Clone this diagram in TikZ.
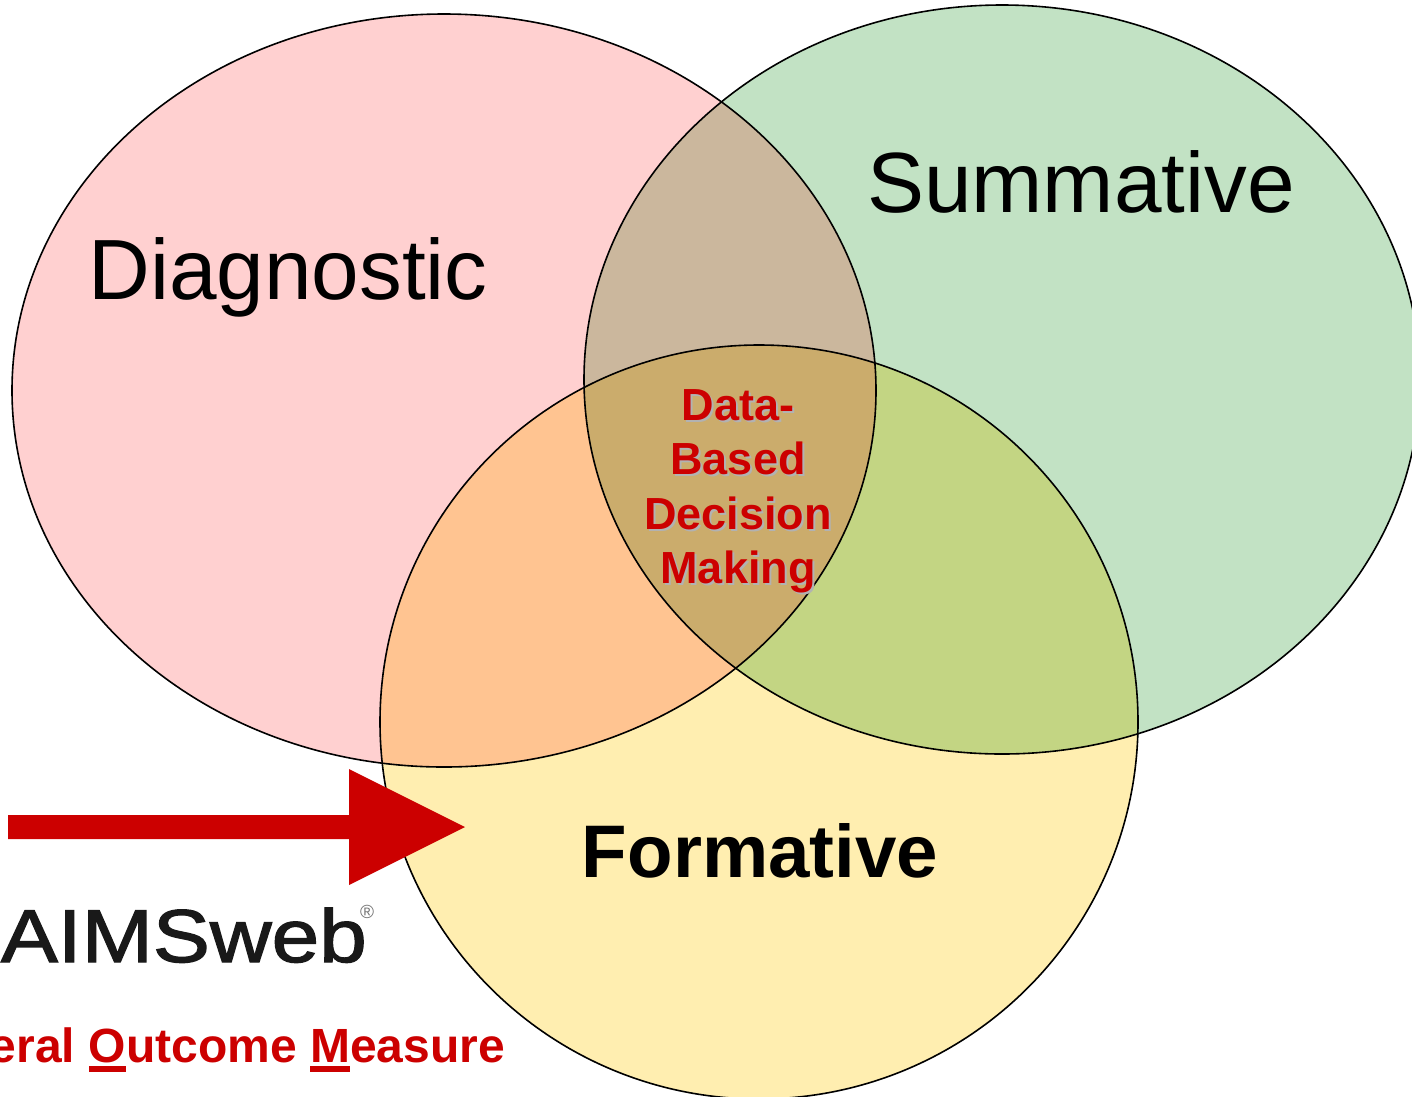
\documentclass[tikz,border=0pt]{standalone}
\usepackage{fontspec}
\setmainfont{Liberation Sans}
\newfontfamily\logofont[FakeBold=1.6]{Liberation Sans}
\definecolor{cred}{HTML}{CC0000}
\definecolor{cP}{HTML}{FFD0D0}
\definecolor{cG}{HTML}{C2E2C4}
\definecolor{cY}{HTML}{FFEEB0}
\definecolor{cPG}{HTML}{CBB79D}
\definecolor{cPY}{HTML}{FFC491}
\definecolor{cGY}{HTML}{C3D583}
\definecolor{cPGY}{HTML}{CBAC6C}
\newcommand\ulbox[1]{\setbox0\hbox{#1}\rlap{\rule[-0.21em]{\wd0}{0.13em}}\box0}
\newcommand\shadowtext[4]{%
 \node[datatext,text=black!30] at (#1+2,#2+2) {#3};
 \node[datatext] (#4) at (#1,#2) {#3};}
\tikzset{
  venn/.style={draw=black,line width=1.6pt},
  bigtext/.style={font=\fontsize{85.5}{85.5}\selectfont,text=black,inner sep=0pt,anchor=base},
  datatext/.style={font=\fontsize{45}{45}\bfseries\selectfont,text=cred,inner sep=0pt,anchor=base},
}
\def\pD{(444,390.5) ellipse [x radius=432,y radius=376.5]}
\def\pS{(1002,379.5) ellipse [x radius=418,y radius=374.5]}
\def\pF{(759,722) ellipse [x radius=379,y radius=377]}
\begin{document}
\begin{tikzpicture}[x=1pt,y=-1pt]
\useasboundingbox (0,0) rectangle (1412,1096);
\clip (0,0) rectangle (1412,1096);
\fill[white] (0,0) rectangle (1412,1096);
% base regions
\fill[cP] \pD;
\fill[cG] \pS;
\fill[cY] \pF;
% overlaps
\begin{scope}\clip \pD; \fill[cPG] \pS; \fill[cPY] \pF; \end{scope}
\begin{scope}\clip \pS; \fill[cGY] \pF; \end{scope}
\begin{scope}\clip \pD; \clip \pS; \fill[cPGY] \pF; \end{scope}
% outlines
\draw[venn] \pD;
\draw[venn] \pS;
\draw[venn] \pF;
% labels
\node[bigtext] (diag) at (288,299) {Diagnostic};
\node[bigtext] (summ) at (1081,212) {Summative};
\node[bigtext,font=\fontsize{74.5}{74.5}\bfseries\selectfont] (form) at (760,877) {Formative};
\shadowtext{738}{420}{Data-}{d1}
\shadowtext{738}{474}{Based}{d2}
\shadowtext{738}{529}{Decision}{d3}
\shadowtext{738}{583}{Making}{d4}
% arrow
\fill[cred] (8,815) -- (349,815) -- (349,769) -- (465,827) -- (349,885) -- (349,839) -- (8,839) -- cycle;
% logo
\node[inner sep=0pt,anchor=base east,xscale=1.14,font=\logofont\fontsize{75}{75}\selectfont,text=black!90] (logo) at (367,962) {AIMSweb};
\node[inner sep=0pt,font=\fontsize{19}{19}\selectfont,text=black!55] (reg) at (367,912) {®};
% caption
\node[inner sep=0pt,anchor=base east,font=\fontsize{48}{48}\bfseries\selectfont,text=cred] (gom) at (505,1062) {eral \ulbox{O}utcome \ulbox{M}easure};
\end{tikzpicture}
\end{document}
